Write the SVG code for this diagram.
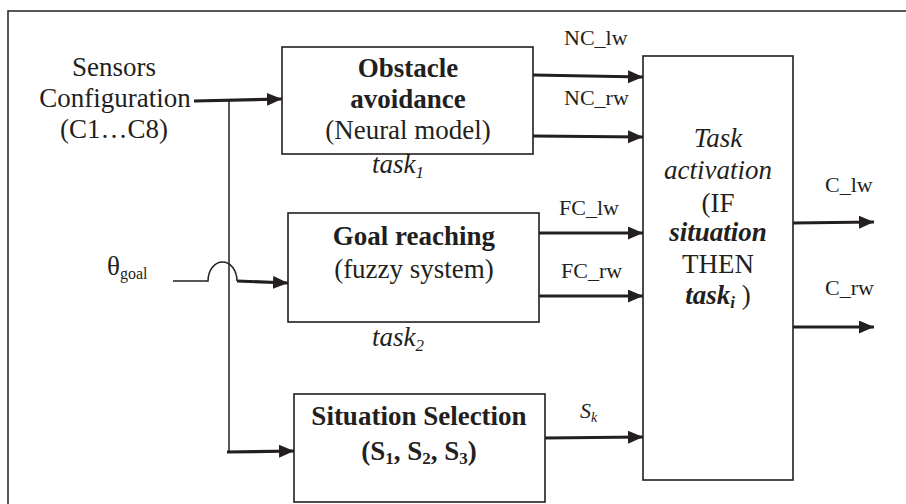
<svg xmlns="http://www.w3.org/2000/svg" width="906" height="504" viewBox="0 0 906 504" font-family="'Liberation Serif', 'DejaVu Serif', serif">
<style>
text{font-family:"Liberation Serif","DejaVu Serif",serif;fill:#231f20}
.t{font-size:27px}
.s{font-size:22px}
.b{font-weight:bold}
.i{font-style:italic}
.box{fill:#fff;stroke:#231f20;stroke-width:1.6}
.thick{stroke:#231f20;stroke-width:3.2;fill:none}
.thin{stroke:#231f20;stroke-width:1.5;fill:none}
</style>
<defs>
<marker id="ah" markerUnits="userSpaceOnUse" markerWidth="16" markerHeight="14" refX="15" refY="6.5" orient="auto">
<path d="M0,0 L15,6.5 L0,13 z" fill="#231f20"/>
</marker>
</defs>
<rect width="906" height="504" fill="#fff"/>
<path class="thin" d="M8,504 V11 H906"/>

<g id="connectors">
<line class="thick" x1="194" y1="101" x2="282" y2="99" marker-end="url(#ah)"/>
<path class="thin" d="M229,100 V452"/>
<line class="thick" x1="227" y1="452" x2="294" y2="451" marker-end="url(#ah)"/>
<path class="thin" d="M173,281 H208 A14.5,19 0 0 1 237,281"/>
<line class="thick" x1="237" y1="281" x2="288" y2="283" marker-end="url(#ah)"/>
<line class="thick" x1="533" y1="75" x2="643" y2="77" marker-end="url(#ah)"/>
<line class="thick" x1="533" y1="136" x2="643" y2="137" marker-end="url(#ah)"/>
<line class="thick" x1="539" y1="233" x2="643" y2="233" marker-end="url(#ah)"/>
<line class="thick" x1="539" y1="296" x2="643" y2="296" marker-end="url(#ah)"/>
<line class="thick" x1="545" y1="438" x2="643" y2="437" marker-end="url(#ah)"/>
<line class="thick" x1="793" y1="223" x2="874" y2="222" marker-end="url(#ah)"/>
<line class="thick" x1="793" y1="327" x2="874" y2="327" marker-end="url(#ah)"/>
</g>

<g id="sensors">
<text class="t" x="114" y="76" text-anchor="middle">Sensors</text>
<text class="t" x="115" y="107" text-anchor="middle">Configuration</text>
<text class="t" x="114" y="138" text-anchor="middle">(C1…C8)</text>
</g>

<g id="theta">
<text class="t" x="107" y="275">θ<tspan font-size="16" dy="4">goal</tspan></text>
</g>

<g id="obstacle">
<rect class="box" x="282" y="47" width="251" height="107"/>
<text class="t b" x="408" y="77" text-anchor="middle">Obstacle</text>
<text class="t b" x="408" y="108" text-anchor="middle">avoidance</text>
<text class="t" x="408" y="139" text-anchor="middle">(Neural model)</text>
<text class="t i" x="372" y="173">task<tspan font-size="17" dy="5">1</tspan></text>
</g>

<g id="goal">
<rect class="box" x="288" y="213" width="251" height="109"/>
<text class="t b" x="414" y="245" text-anchor="middle">Goal reaching</text>
<text class="t" x="414" y="278" text-anchor="middle">(fuzzy system)</text>
<text class="t i" x="372" y="346">task<tspan font-size="17" dy="5">2</tspan></text>
</g>

<g id="situation">
<rect class="box" x="294" y="394" width="251" height="108"/>
<text class="t b" x="419" y="425" text-anchor="middle">Situation Selection</text>
<text class="t b" x="419" y="460" text-anchor="middle">(S<tspan font-size="17" dy="4">1</tspan><tspan dy="-4">, S</tspan><tspan font-size="17" dy="4">2</tspan><tspan dy="-4">, S</tspan><tspan font-size="17" dy="4">3</tspan><tspan dy="-4">)</tspan></text>
</g>

<g id="activation">
<rect class="box" x="643" y="56" width="150" height="424"/>
<text class="t i" x="718" y="147" text-anchor="middle">Task</text>
<text class="t i" x="718" y="179" text-anchor="middle">activation</text>
<text class="t" x="718" y="212" text-anchor="middle">(IF</text>
<text class="t b i" x="718" y="241" text-anchor="middle">situation</text>
<text class="t" x="718" y="273" text-anchor="middle">THEN</text>
<text class="t" x="718" y="304" text-anchor="middle"><tspan class="b i">task</tspan><tspan class="b i" font-size="17" dy="4">i</tspan><tspan dy="-4"> )</tspan></text>
</g>

<g id="labels">
<text class="s" x="564" y="45">NC_lw</text>
<text class="s" x="564" y="105">NC_rw</text>
<text class="s" x="559" y="215">FC_lw</text>
<text class="s" x="561" y="278">FC_rw</text>
<text class="s i" x="580" y="418">S<tspan font-size="14" dy="4">k</tspan></text>
<text class="s" x="825" y="192">C_lw</text>
<text class="s" x="825" y="295">C_rw</text>
</g>
</svg>
